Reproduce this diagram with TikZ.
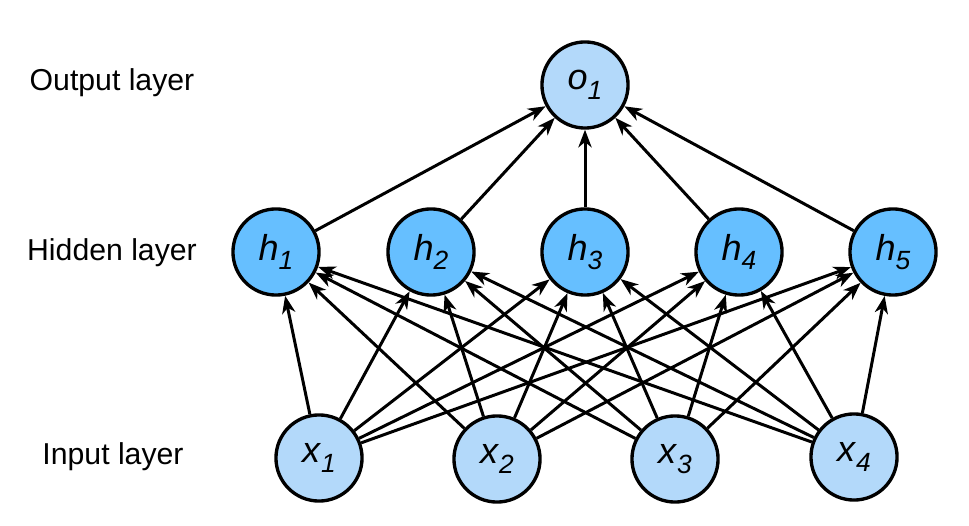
\documentclass[tikz,border=0pt]{standalone}
\usepackage{fontspec}
\setmainfont{Liberation Sans}
\usetikzlibrary{arrows.meta}
\definecolor{lightb}{RGB}{179,217,250}
\definecolor{darkb}{RGB}{102,191,255}
\newcommand{\nlab}[2]{\textit{#1}\raisebox{-0.5ex}{\fontsize{15}{15}\selectfont\textit{#2}}}
\begin{document}
\begin{tikzpicture}[x=0.02cm,y=-0.02cm,
  neuron/.style={circle,draw=black,line width=1.9pt,minimum size=49pt,inner sep=0pt,font=\fontsize{20.5}{20.5}\selectfont},
  inp/.style={neuron,fill=lightb},
  hid/.style={neuron,fill=darkb},
  layerlab/.style={font=\fontsize{17.2}{17.2}\selectfont},
  conn/.style={line width=1.7pt,-{Stealth[length=10pt,width=7.5pt,inset=3pt]}}]
\useasboundingbox (0,0) rectangle (969,526);
\node[inp] (o1) at (585,85) {\nlab{o}{1}};
\node[hid] (h1) at (276,252) {\nlab{h}{1}};
\node[hid] (h2) at (431,252) {\nlab{h}{2}};
\node[hid] (h3) at (585,252) {\nlab{h}{3}};
\node[hid] (h4) at (739,252) {\nlab{h}{4}};
\node[hid] (h5) at (893,252) {\nlab{h}{5}};
\node[inp] (x1) at (319,458) {\nlab{x}{1}};
\node[inp] (x2) at (497,459) {\nlab{x}{2}};
\node[inp] (x3) at (675,459) {\nlab{x}{3}};
\node[inp] (x4) at (854,457) {\nlab{x}{4}};
\node[layerlab] (lo) at (112,83) {Output layer};
\node[layerlab] (lh) at (112,253) {Hidden layer};
\node[layerlab] (li) at (113,457) {Input layer};
\foreach \h in {h1,h2,h3,h4,h5} {\draw[conn] (\h) -- (o1);}
\foreach \x in {x1,x2,x3,x4} {\foreach \h in {h1,h2,h3,h4,h5} {\draw[conn] (\x) -- (\h);}}
\end{tikzpicture}
\end{document}
